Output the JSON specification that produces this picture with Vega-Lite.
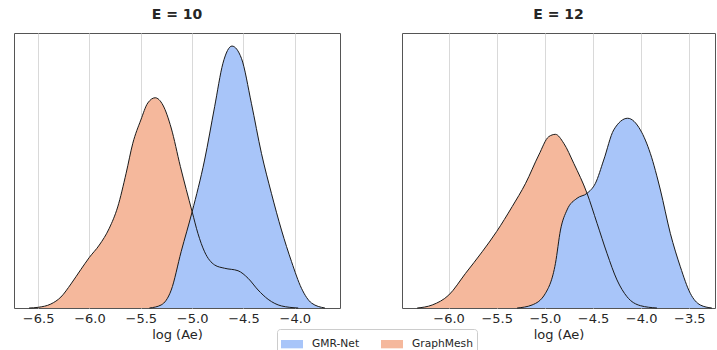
{
  "$schema": "https://vega.github.io/schema/vega-lite/v6.json",
  "padding": {"left": 13, "top": 7, "right": 1, "bottom": 0},
  "background": "white",
  "config": {
    "font": "DejaVu Sans",
    "view": {"stroke": "#555555", "strokeWidth": 1},
    "title": {"fontSize": 14, "fontWeight": "bold", "color": "#262626", "offset": 11},
    "axisX": {
      "domain": false, "ticks": false, "grid": true, "gridColor": "#d9d9d9", "gridWidth": 1,
      "labelFontSize": 13, "labelColor": "#262626", "labelPadding": 4,
      "titleFontSize": 13, "titleFontWeight": "normal", "titleColor": "#262626", "titlePadding": 3,
      "labelExpr": "replace(format(datum.value, '.1f'), '-', '\u2212')"
    }
  },
  "datasets": {
    "e10": [
      {"m": "GraphMesh", "x": -6.588, "d": 0},
      {"m": "GraphMesh", "x": -6.5, "d": 0.005},
      {"m": "GraphMesh", "x": -6.376, "d": 0.029},
      {"m": "GraphMesh", "x": -6.278, "d": 0.08},
      {"m": "GraphMesh", "x": -6.18, "d": 0.175},
      {"m": "GraphMesh", "x": -6.083, "d": 0.281},
      {"m": "GraphMesh", "x": -6.0, "d": 0.369},
      {"m": "GraphMesh", "x": -5.904, "d": 0.458},
      {"m": "GraphMesh", "x": -5.807, "d": 0.58},
      {"m": "GraphMesh", "x": -5.725, "d": 0.735},
      {"m": "GraphMesh", "x": -5.643, "d": 0.98},
      {"m": "GraphMesh", "x": -5.578, "d": 1.198},
      {"m": "GraphMesh", "x": -5.5, "d": 1.367},
      {"m": "GraphMesh", "x": -5.432, "d": 1.491},
      {"m": "GraphMesh", "x": -5.36, "d": 1.529},
      {"m": "GraphMesh", "x": -5.285, "d": 1.476},
      {"m": "GraphMesh", "x": -5.204, "d": 1.309},
      {"m": "GraphMesh", "x": -5.115, "d": 1.03},
      {"m": "GraphMesh", "x": -5.0, "d": 0.7},
      {"m": "GraphMesh", "x": -4.944, "d": 0.543},
      {"m": "GraphMesh", "x": -4.879, "d": 0.409},
      {"m": "GraphMesh", "x": -4.781, "d": 0.313},
      {"m": "GraphMesh", "x": -4.684, "d": 0.289},
      {"m": "GraphMesh", "x": -4.553, "d": 0.271},
      {"m": "GraphMesh", "x": -4.455, "d": 0.216},
      {"m": "GraphMesh", "x": -4.358, "d": 0.131},
      {"m": "GraphMesh", "x": -4.26, "d": 0.063},
      {"m": "GraphMesh", "x": -4.13, "d": 0.015},
      {"m": "GraphMesh", "x": -3.967, "d": 0},
      {"m": "GMR-Net", "x": -5.416, "d": 0},
      {"m": "GMR-Net", "x": -5.302, "d": 0.022},
      {"m": "GMR-Net", "x": -5.204, "d": 0.13},
      {"m": "GMR-Net", "x": -5.107, "d": 0.41},
      {"m": "GMR-Net", "x": -5.0, "d": 0.7},
      {"m": "GMR-Net", "x": -4.879, "d": 1.076},
      {"m": "GMR-Net", "x": -4.781, "d": 1.464},
      {"m": "GMR-Net", "x": -4.7, "d": 1.78},
      {"m": "GMR-Net", "x": -4.612, "d": 1.905},
      {"m": "GMR-Net", "x": -4.52, "d": 1.816},
      {"m": "GMR-Net", "x": -4.423, "d": 1.489},
      {"m": "GMR-Net", "x": -4.325, "d": 1.125},
      {"m": "GMR-Net", "x": -4.228, "d": 0.834},
      {"m": "GMR-Net", "x": -4.13, "d": 0.567},
      {"m": "GMR-Net", "x": -4.032, "d": 0.337},
      {"m": "GMR-Net", "x": -3.935, "d": 0.143},
      {"m": "GMR-Net", "x": -3.837, "d": 0.036},
      {"m": "GMR-Net", "x": -3.707, "d": 0}
    ],
    "e12": [
      {"m": "GraphMesh", "x": -6.326, "d": 0},
      {"m": "GraphMesh", "x": -6.17, "d": 0.022},
      {"m": "GraphMesh", "x": -5.997, "d": 0.095},
      {"m": "GraphMesh", "x": -5.824, "d": 0.252},
      {"m": "GraphMesh", "x": -5.651, "d": 0.409},
      {"m": "GraphMesh", "x": -5.502, "d": 0.555},
      {"m": "GraphMesh", "x": -5.34, "d": 0.737},
      {"m": "GraphMesh", "x": -5.2, "d": 0.907},
      {"m": "GraphMesh", "x": -5.063, "d": 1.113},
      {"m": "GraphMesh", "x": -4.96, "d": 1.246},
      {"m": "GraphMesh", "x": -4.89, "d": 1.263},
      {"m": "GraphMesh", "x": -4.804, "d": 1.198},
      {"m": "GraphMesh", "x": -4.7, "d": 1.052},
      {"m": "GraphMesh", "x": -4.562, "d": 0.834},
      {"m": "GraphMesh", "x": -4.458, "d": 0.616},
      {"m": "GraphMesh", "x": -4.355, "d": 0.398},
      {"m": "GraphMesh", "x": -4.251, "d": 0.204},
      {"m": "GraphMesh", "x": -4.147, "d": 0.082},
      {"m": "GraphMesh", "x": -4.008, "d": 0.017},
      {"m": "GraphMesh", "x": -3.836, "d": 0},
      {"m": "GMR-Net", "x": -5.288, "d": 0},
      {"m": "GMR-Net", "x": -5.133, "d": 0.022},
      {"m": "GMR-Net", "x": -4.994, "d": 0.107},
      {"m": "GMR-Net", "x": -4.89, "d": 0.325},
      {"m": "GMR-Net", "x": -4.838, "d": 0.567},
      {"m": "GMR-Net", "x": -4.77, "d": 0.713},
      {"m": "GMR-Net", "x": -4.666, "d": 0.798},
      {"m": "GMR-Net", "x": -4.562, "d": 0.834},
      {"m": "GMR-Net", "x": -4.475, "d": 0.907},
      {"m": "GMR-Net", "x": -4.389, "d": 1.076},
      {"m": "GMR-Net", "x": -4.285, "d": 1.295},
      {"m": "GMR-Net", "x": -4.14, "d": 1.38},
      {"m": "GMR-Net", "x": -4.008, "d": 1.295},
      {"m": "GMR-Net", "x": -3.905, "d": 1.125},
      {"m": "GMR-Net", "x": -3.8, "d": 0.858},
      {"m": "GMR-Net", "x": -3.697, "d": 0.543},
      {"m": "GMR-Net", "x": -3.593, "d": 0.3},
      {"m": "GMR-Net", "x": -3.49, "d": 0.107},
      {"m": "GMR-Net", "x": -3.386, "d": 0.022},
      {"m": "GMR-Net", "x": -3.266, "d": 0}
    ]
  },
  "spacing": 60,
  "resolve": {"scale": {"color": "shared"}},
  "hconcat": [
    {
      "width": 326, "height": 275,
      "title": "E = 10",
      "data": {"name": "e10"},
      "encoding": {
        "x": {"field": "x", "type": "quantitative", "scale": {"domain": [-6.735, -3.56], "nice": false, "zero": false},
              "axis": {"values": [-6.5, -6, -5.5, -5, -4.5, -4], "title": "log (Ae)"}},
        "y": {"field": "d", "type": "quantitative", "scale": {"domain": [0, 2.0], "nice": false}, "axis": null}
      },
      "layer": [
        {"transform": [{"filter": "datum.m === 'GraphMesh'"}],
         "mark": {"type": "area", "interpolate": "monotone", "opacity": 1},
         "encoding": {"color": {"field": "m", "type": "nominal",
           "scale": {"domain": ["GMR-Net", "GraphMesh"], "range": ["#a8c5f9", "#f5b89c"]},
           "legend": {"orient": "none", "legendX": 263, "legendY": 296, "direction": "horizontal", "title": null,
             "symbolType": "M-1,-0.38H1V0.38H-1Z", "symbolSize": 484, "symbolStrokeWidth": 0, "symbolOpacity": 1,
             "labelFontSize": 10.7, "labelColor": "#262626", "labelOffset": 9, "columnPadding": 21,
             "strokeColor": "#cccccc", "fillColor": "white", "padding": 4, "cornerRadius": 3}}}},
        {"transform": [{"filter": "datum.m === 'GMR-Net'"}],
         "mark": {"type": "area", "interpolate": "monotone", "opacity": 1},
         "encoding": {"color": {"field": "m", "type": "nominal"}}},
        {"mark": {"type": "line", "interpolate": "monotone", "color": "#1a1a1a", "strokeWidth": 1},
         "encoding": {"detail": {"field": "m", "type": "nominal"}}}
      ]
    },
    {
      "width": 313, "height": 275,
      "title": "E = 12",
      "data": {"name": "e12"},
      "encoding": {
        "x": {"field": "x", "type": "quantitative", "scale": {"domain": [-6.484, -3.233], "nice": false, "zero": false},
              "axis": {"values": [-6, -5.5, -5, -4.5, -4, -3.5], "title": "log (Ae)"}},
        "y": {"field": "d", "type": "quantitative", "scale": {"domain": [0, 2.0], "nice": false}, "axis": null}
      },
      "layer": [
        {"transform": [{"filter": "datum.m === 'GraphMesh'"}],
         "mark": {"type": "area", "interpolate": "monotone", "opacity": 1},
         "encoding": {"color": {"field": "m", "type": "nominal"}}},
        {"transform": [{"filter": "datum.m === 'GMR-Net'"}],
         "mark": {"type": "area", "interpolate": "monotone", "opacity": 1},
         "encoding": {"color": {"field": "m", "type": "nominal"}}},
        {"mark": {"type": "line", "interpolate": "monotone", "color": "#1a1a1a", "strokeWidth": 1},
         "encoding": {"detail": {"field": "m", "type": "nominal"}}}
      ]
    }
  ]
}
